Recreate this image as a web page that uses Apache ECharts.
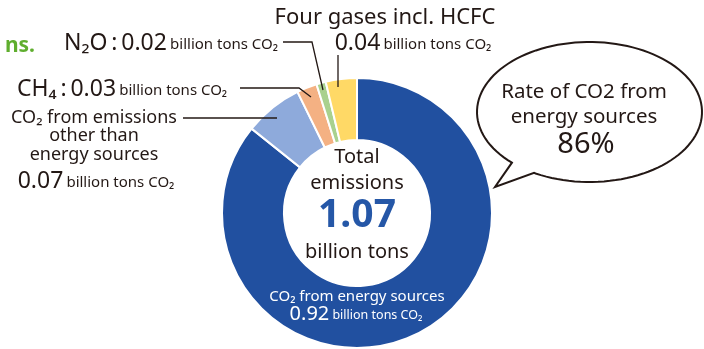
<!DOCTYPE html>
<html><head><meta charset="utf-8">
<script src="https://cdn.jsdelivr.net/npm/echarts@6/dist/echarts.min.js"></script>
<style>html,body{margin:0;padding:0;background:#fff}#c{width:704px;height:349px}</style>
</head><body><div id="c"></div>
<script>
// Data
const categories = ['CO₂ from energy sources', 'CO₂ from emissions other than energy sources', 'CH₄', 'N₂O', 'Four gases incl. HCFC'];
const sliceValues = [0.92, 0.075, 0.026, 0.012, 0.04];   // slice sizes
const labelValues = ['0.92', '0.07', '0.03', '0.02', '0.04']; // printed values
const totalLabel = '1.07';
const rateLabel = '86%';
const colors = ['#2150a0', '#8eaadb', '#f4b183', '#a9d18e', '#ffd966'];

const FONT = '"Noto Sans", "Noto Sans CJK JP", sans-serif';
const INK = '#231815';
const chart = echarts.init(document.getElementById('c'));

function txt(x, y, text, size, opts) {
  return Object.assign({
    type: 'text', x: x, y: y, z: 10,
    style: Object.assign({ text: text, fontSize: size, fontFamily: FONT, fill: INK,
      align: 'center', verticalAlign: 'middle' }, (opts || {}))
  });
}
function richTxt(x, y, text, big, small, align, fill) {
  return {
    type: 'text', x: x, y: y, z: 10,
    style: { text: text, fontFamily: FONT, fill: fill || INK, align: align, verticalAlign: 'middle',
      rich: { b: { fontSize: big, fontFamily: FONT, fill: fill || INK, verticalAlign: 'bottom' },
              s: { fontSize: small, fontFamily: FONT, fill: fill || INK, verticalAlign: 'bottom', padding: [0, 0, 2, 0] } } }
  };
}
function line(points) {
  return { type: 'polyline', z: 10, shape: { points: points }, style: { stroke: INK, lineWidth: 1.3, fill: null } };
}

// speech bubble outline (ellipse + tail)
const bub = [];
const cx = 589.5, cy = 112, rx = 112.5, ry = 70;
for (let a = 133.6; a <= 479.5; a += 3) {
  const t = a * Math.PI / 180;
  bub.push([cx + rx * Math.cos(t), cy + ry * Math.sin(t)]);
}
bub.push([cx + rx * Math.cos(119.5 * Math.PI / 180), cy + ry * Math.sin(119.5 * Math.PI / 180)]);
bub.push([495, 187]);

chart.setOption({
  animation: false,
  series: [{
    type: 'pie',
    center: [357, 213],
    radius: [73, 135],
    startAngle: 90,
    clockwise: true,
    label: { show: false },
    labelLine: { show: false },
    silent: true,
    itemStyle: { borderColor: '#fff', borderWidth: 2 },
    data: categories.map((c, i) => ({ name: c, value: sliceValues[i], itemStyle: { color: colors[i] } }))
  }],
  graphic: [
    txt(35, 46, 'ns.', 21, { align: 'right', fill: '#5fae2e', fontWeight: 'bold' }),
    // Four gases
    txt(385, 18, categories[4], 22),
    richTxt(413, 43, '{b|' + labelValues[4] + '} {s|billion tons CO₂}', 23, 15, 'center'),
    line([[338, 55], [338, 87]]),
    // N2O
    richTxt(64, 43, '{b|N₂O\u2009:\u2009' + labelValues[3] + '} {s|billion tons CO₂}', 23, 15, 'left'),
    line([[283, 42], [312, 42], [323, 90]]),
    // CH4
    richTxt(17, 89, '{b|CH₄\u2009:\u2009' + labelValues[2] + '} {s|billion tons CO₂}', 23, 15, 'left'),
    line([[240, 88], [299, 88], [311, 97]]),
    // other CO2
    txt(94, 118, 'CO₂ from emissions', 18),
    txt(94, 136, 'other than', 18),
    txt(94, 155, 'energy sources', 18),
    richTxt(96, 181, '{b|' + labelValues[1] + '} {s|billion tons CO₂}', 23, 15, 'center'),
    line([[183, 118], [277, 118]]),
    // center
    txt(357, 157, 'Total', 20),
    txt(357, 183, 'emissions', 20),
    txt(357, 216, totalLabel, 39, { fill: '#2557a7', fontWeight: 'bold' }),
    txt(357, 252, 'billion tons', 20),
    txt(357, 297, categories[0], 15, { fill: '#fff' }),
    richTxt(356, 314, '{b|' + labelValues[0] + '} {s|billion tons CO₂}', 20, 12.5, 'center', '#fff'),
    // bubble
    { type: 'polygon', z: 5, shape: { points: bub }, style: { fill: '#fff', stroke: INK, lineWidth: 2 } },
    txt(584, 92, 'Rate of CO2 from', 20.5),
    txt(584, 117, 'energy sources', 20.5),
    txt(586, 145, rateLabel, 29)
  ]
});
</script></body></html>
